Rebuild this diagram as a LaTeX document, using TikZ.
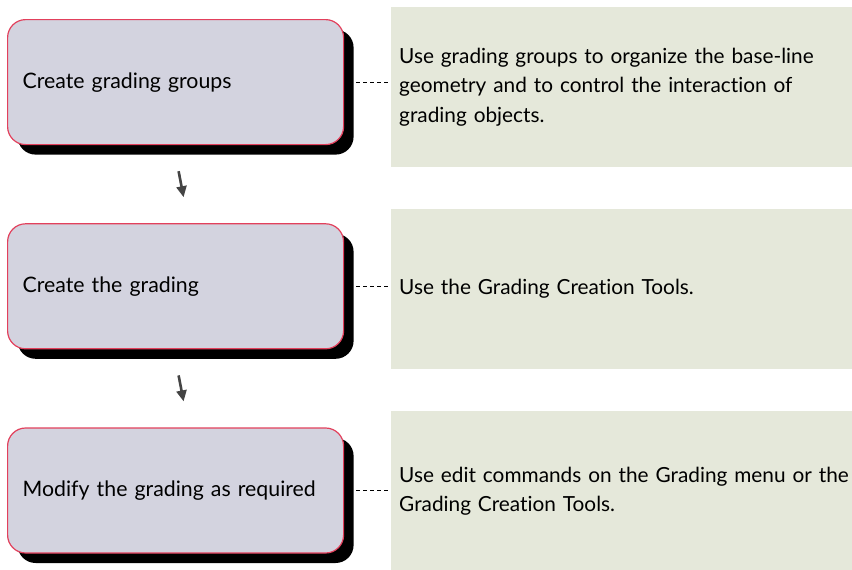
\documentclass[tikz,border=0pt]{standalone}
\usepackage{fontspec}
\setmainfont{Lato}[Ligatures=NoCommon]
\usetikzlibrary{arrows.meta,positioning,calc,shadows}
\definecolor{stepfill}{HTML}{D3D3DF}
\definecolor{stepline}{HTML}{E2405C}
\definecolor{notefill}{HTML}{E5E8DA}
\definecolor{arrowgray}{HTML}{444444}
\tikzset{
  stepbox/.style={draw=stepline,fill=stepfill,line width=1.2pt,rounded corners=18pt,
    minimum width=336pt,minimum height=125pt,text width=306pt,align=left,
    font=\fontsize{21.3}{24}\selectfont,
    drop shadow={shadow xshift=10pt,shadow yshift=-10pt,fill=black,opacity=1}},
  notebox/.style={fill=notefill,minimum width=470pt,minimum height=160pt,
    text width=454pt,align=left,font=\fontsize{20.8}{29.5}\selectfont},
  leader/.style={draw=black,line width=1.2pt,dash pattern=on 4pt off 3pt},
  flowarrow/.style={-{Triangle[length=11pt,width=10pt]},draw=arrowgray,line width=2.6pt}
}
\begin{document}
\begin{tikzpicture}[x=1pt,y=-1pt,node distance=78pt and 48pt]
  \useasboundingbox (0,0) rectangle (852,570);
  % steps on the left
  \node[stepbox,anchor=north west] (step1) at (7,19) {Create grading groups};
  \node[stepbox,below=of step1] (step2) {Create the grading};
  \node[stepbox,below=of step2] (step3) {Modify the grading as required};
  % notes on the right
  \node[notebox,anchor=north west] (note1) at (391,7)
    {Use grading groups to organize the base-line\\geometry and to control the interaction of\\grading objects.};
  \node[notebox,anchor=north west] (note2) at (391,209) {Use the Grading Creation Tools.};
  \node[notebox,anchor=north west] (note3) at (391,411)
    {Use edit commands on the Grading menu or the\\Grading Creation Tools.};
  % leaders
  \foreach \i in {1,2,3}
    \draw[leader] ([xshift=12pt]step\i.east) -- ($(note\i.west |- step\i.east)+(-3,0)$);
  % arrows between steps
  \coordinate (a1) at ($(step1.south)+(3,26)$);
  \coordinate (b1) at ($(step1.south)+(8,52)$);
  \coordinate (a2) at ($(step2.south)+(3,26)$);
  \coordinate (b2) at ($(step2.south)+(8,52)$);
  \draw[flowarrow] (a1) -- (b1);
  \draw[flowarrow] (a2) -- (b2);
\end{tikzpicture}
\end{document}
